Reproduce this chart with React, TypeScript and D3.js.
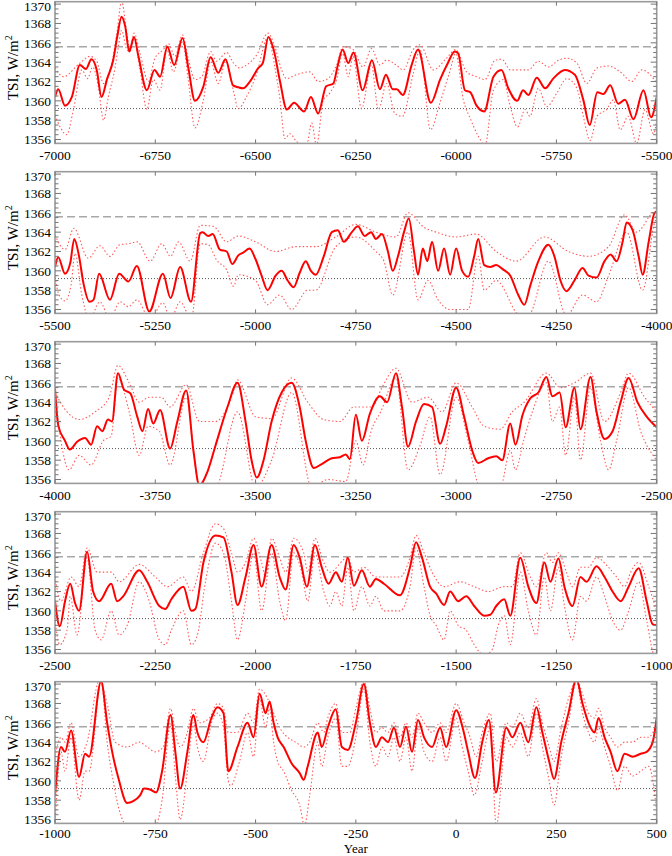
import React from "react";
import * as d3 from "d3";

type Pt = [number, number];

// TSI reconstruction, five 1500-year panels. [year, W/m^2]
const panelStarts = [-7000, -5500, -4000, -2500, -1000];
const yearStep = 250;
const tsiMajor = [1356, 1358, 1360, 1362, 1364, 1366, 1368, 1370];
const refHigh = 1365.6;
const refLow = 1359.2;

const p1Main: Pt[] = [[-7000,1360.4],[-6992,1361.2],[-6975,1359.5],[-6958,1360.4],[-6938,1363.7],[-6923,1363.3],[-6909,1364.3],[-6896,1363.2],[-6884,1360.4],[-6870,1362.3],[-6855,1364.2],[-6845,1366.6],[-6834,1368.7],[-6825,1367.7],[-6815,1365.1],[-6803,1366.6],[-6792,1364.6],[-6771,1361.1],[-6752,1363.2],[-6738,1362.5],[-6720,1365.6],[-6703,1363.7],[-6682,1366.5],[-6668,1363.5],[-6651,1360.0],[-6630,1361.5],[-6612,1364.5],[-6593,1362.9],[-6575,1364.3],[-6556,1361.6],[-6543,1361.4],[-6531,1361.3],[-6514,1362.0],[-6493,1363.4],[-6482,1363.9],[-6468,1366.6],[-6455,1365.3],[-6439,1362.0],[-6422,1359.1],[-6404,1359.8],[-6379,1358.9],[-6362,1360.4],[-6344,1358.7],[-6324,1361.5],[-6306,1361.8],[-6296,1363.5],[-6283,1365.3],[-6269,1363.9],[-6256,1365.0],[-6233,1361.1],[-6210,1364.2],[-6190,1361.2],[-6175,1362.7],[-6158,1361.2],[-6148,1361.2],[-6133,1360.6],[-6111,1363.7],[-6095,1365.3],[-6063,1359.8],[-6040,1362.2],[-6023,1363.7],[-6003,1365.1],[-5995,1364.9],[-5978,1361.1],[-5965,1360.9],[-5949,1359.5],[-5930,1358.9],[-5907,1362.5],[-5887,1363.2],[-5870,1361.3],[-5848,1360.0],[-5833,1361.1],[-5820,1360.6],[-5799,1362.4],[-5778,1361.3],[-5758,1362.3],[-5729,1363.2],[-5704,1362.7],[-5683,1360.1],[-5667,1357.5],[-5648,1360.9],[-5633,1360.7],[-5616,1361.6],[-5596,1359.7],[-5579,1360.1],[-5558,1358.1],[-5533,1361.1],[-5514,1358.3],[-5500,1360.4]];
const p1Upper: Pt[] = [[-7000,1363.4],[-6979,1362.5],[-6938,1363.9],[-6913,1364.6],[-6896,1364.1],[-6879,1361.8],[-6859,1363.7],[-6845,1367.2],[-6834,1370.3],[-6821,1367.0],[-6813,1365.3],[-6803,1367.0],[-6788,1364.9],[-6767,1362.0],[-6751,1364.4],[-6730,1365.3],[-6717,1365.9],[-6701,1364.6],[-6682,1366.8],[-6668,1364.4],[-6651,1362.2],[-6634,1362.5],[-6612,1365.1],[-6597,1364.1],[-6572,1365.0],[-6555,1363.9],[-6539,1363.4],[-6523,1363.7],[-6498,1364.7],[-6469,1367.0],[-6452,1365.6],[-6435,1363.2],[-6423,1362.3],[-6398,1362.7],[-6365,1363.0],[-6344,1362.0],[-6323,1362.2],[-6298,1363.7],[-6282,1365.6],[-6257,1365.3],[-6232,1363.5],[-6211,1365.4],[-6190,1363.7],[-6173,1364.2],[-6149,1363.7],[-6132,1363.2],[-6107,1365.3],[-6090,1365.8],[-6057,1363.2],[-6024,1364.4],[-6001,1365.3],[-5974,1363.0],[-5949,1362.5],[-5928,1362.2],[-5903,1364.2],[-5886,1364.3],[-5865,1363.2],[-5845,1363.2],[-5820,1363.2],[-5795,1364.1],[-5770,1363.5],[-5745,1364.2],[-5724,1364.4],[-5699,1363.9],[-5674,1361.8],[-5649,1363.4],[-5620,1363.6],[-5591,1363.0],[-5562,1362.0],[-5537,1363.2],[-5516,1362.7],[-5500,1361.8]];
const p1Lower: Pt[] = [[-7000,1358.5],[-6987,1357.3],[-6971,1356.5],[-6954,1359.1],[-6933,1363.2],[-6919,1362.3],[-6906,1363.5],[-6892,1361.5],[-6879,1358.0],[-6867,1360.4],[-6850,1363.5],[-6842,1365.6],[-6834,1367.3],[-6821,1365.3],[-6813,1365.1],[-6803,1366.3],[-6788,1363.2],[-6771,1359.1],[-6755,1362.2],[-6738,1361.1],[-6721,1365.3],[-6705,1363.0],[-6682,1366.1],[-6668,1362.2],[-6651,1357.2],[-6630,1360.1],[-6612,1364.1],[-6593,1361.8],[-6574,1364.1],[-6555,1361.0],[-6543,1359.2],[-6523,1360.4],[-6498,1362.7],[-6469,1366.6],[-6452,1363.5],[-6439,1360.1],[-6427,1356.1],[-6414,1356.6],[-6398,1355.8],[-6373,1355.4],[-6360,1357.7],[-6348,1355.4],[-6331,1360.1],[-6315,1360.8],[-6298,1362.2],[-6283,1364.9],[-6269,1362.5],[-6257,1364.6],[-6236,1359.2],[-6211,1363.7],[-6194,1359.1],[-6173,1361.8],[-6153,1358.7],[-6134,1358.4],[-6107,1362.8],[-6090,1365.3],[-6064,1357.0],[-6041,1359.7],[-6016,1363.0],[-6001,1364.9],[-5982,1360.1],[-5965,1358.2],[-5944,1356.3],[-5928,1355.4],[-5907,1361.1],[-5882,1362.2],[-5865,1359.4],[-5847,1357.3],[-5828,1359.1],[-5816,1358.4],[-5795,1361.3],[-5774,1359.4],[-5749,1360.8],[-5724,1362.3],[-5699,1361.3],[-5683,1358.4],[-5666,1355.9],[-5649,1358.4],[-5625,1359.1],[-5608,1360.1],[-5591,1357.0],[-5571,1358.4],[-5550,1355.6],[-5529,1359.1],[-5508,1356.6],[-5500,1358.0]];

const p2Main: Pt[] = [[-5500,1360.4],[-5492,1361.4],[-5475,1359.7],[-5462,1360.8],[-5452,1363.3],[-5440,1361.5],[-5429,1358.7],[-5414,1356.8],[-5404,1357.0],[-5390,1359.7],[-5363,1357.0],[-5340,1359.7],[-5317,1358.9],[-5296,1360.5],[-5265,1355.8],[-5231,1359.7],[-5212,1357.2],[-5188,1360.4],[-5161,1356.8],[-5138,1363.9],[-5132,1364.0],[-5118,1363.6],[-5107,1363.8],[-5089,1362.2],[-5072,1362.0],[-5058,1360.7],[-5043,1361.6],[-5030,1361.9],[-5015,1362.3],[-5000,1361.2],[-4985,1359.5],[-4970,1358.0],[-4950,1359.5],[-4935,1360.0],[-4920,1359.0],[-4905,1358.3],[-4890,1359.8],[-4875,1361.0],[-4862,1360.0],[-4850,1359.6],[-4830,1361.5],[-4810,1364.0],[-4795,1364.2],[-4780,1363.0],[-4760,1364.0],[-4745,1364.6],[-4728,1363.6],[-4712,1364.0],[-4700,1363.3],[-4685,1363.8],[-4670,1362.0],[-4658,1360.0],[-4645,1361.5],[-4630,1364.0],[-4618,1365.4],[-4605,1362.0],[-4595,1359.6],[-4583,1362.3],[-4572,1361.0],[-4560,1363.0],[-4545,1360.0],[-4530,1362.3],[-4515,1359.6],[-4500,1362.3],[-4485,1360.0],[-4470,1359.4],[-4455,1361.5],[-4445,1363.3],[-4430,1360.6],[-4415,1360.4],[-4400,1360.6],[-4385,1360.2],[-4365,1359.5],[-4345,1357.5],[-4330,1356.5],[-4315,1358.5],[-4295,1361.0],[-4270,1362.7],[-4255,1361.5],[-4240,1359.0],[-4225,1357.9],[-4205,1359.0],[-4185,1360.3],[-4170,1359.5],[-4150,1359.3],[-4130,1361.0],[-4115,1361.7],[-4100,1361.0],[-4085,1363.0],[-4075,1365.0],[-4060,1364.2],[-4045,1361.5],[-4035,1359.6],[-4020,1363.0],[-4005,1366.0],[-4000,1366.1]];
const p2Upper: Pt[] = [[-5500,1363.7],[-5475,1362.2],[-5453,1364.4],[-5417,1361.3],[-5388,1362.6],[-5363,1361.5],[-5338,1362.7],[-5317,1362.8],[-5295,1363.0],[-5263,1361.0],[-5234,1362.8],[-5212,1361.5],[-5192,1363.0],[-5163,1361.0],[-5138,1364.7],[-5105,1364.6],[-5072,1363.0],[-5043,1363.6],[-5000,1363.0],[-4950,1362.0],[-4900,1362.5],[-4850,1362.5],[-4800,1363.5],[-4750,1364.8],[-4700,1364.0],[-4650,1363.5],[-4620,1366.0],[-4580,1364.5],[-4550,1364.0],[-4500,1363.5],[-4450,1363.8],[-4400,1362.0],[-4350,1361.0],[-4280,1363.5],[-4220,1362.0],[-4170,1361.5],[-4120,1362.5],[-4080,1365.8],[-4050,1364.0],[-4010,1366.0],[-4000,1366.2]];
const p2Lower: Pt[] = [[-5500,1359.4],[-5490,1357.5],[-5475,1356.9],[-5460,1358.5],[-5450,1361.8],[-5434,1357.7],[-5414,1355.0],[-5388,1356.8],[-5363,1355.0],[-5338,1356.8],[-5317,1356.3],[-5296,1357.0],[-5263,1355.0],[-5231,1356.7],[-5212,1355.0],[-5188,1356.8],[-5160,1355.0],[-5138,1362.8],[-5118,1362.7],[-5097,1361.1],[-5072,1360.1],[-5055,1358.4],[-5043,1359.6],[-5000,1359.0],[-4970,1356.5],[-4940,1357.5],[-4910,1356.0],[-4870,1358.0],[-4850,1358.0],[-4800,1362.5],[-4750,1363.5],[-4700,1362.0],[-4680,1361.0],[-4658,1357.5],[-4620,1364.0],[-4595,1357.0],[-4570,1359.0],[-4545,1357.0],[-4515,1356.0],[-4470,1356.0],[-4445,1361.5],[-4430,1358.0],[-4400,1359.0],[-4340,1355.4],[-4320,1355.4],[-4270,1361.0],[-4225,1355.4],[-4185,1357.5],[-4150,1356.8],[-4120,1359.5],[-4075,1364.0],[-4035,1358.0],[-4005,1365.0],[-4000,1365.5]];

const p3Main: Pt[] = [[-4000,1365.4],[-3992,1361.6],[-3975,1360.0],[-3963,1359.1],[-3945,1359.9],[-3925,1360.3],[-3910,1359.6],[-3895,1361.5],[-3882,1361.0],[-3868,1362.2],[-3858,1362.0],[-3843,1367.0],[-3828,1365.3],[-3812,1364.9],[-3795,1362.5],[-3782,1361.0],[-3768,1363.3],[-3755,1361.8],[-3738,1363.2],[-3713,1359.2],[-3695,1362.0],[-3673,1365.2],[-3655,1359.0],[-3640,1355.4],[-3620,1356.8],[-3600,1359.5],[-3570,1363.5],[-3545,1366.0],[-3525,1362.0],[-3510,1358.0],[-3497,1356.2],[-3480,1358.0],[-3460,1362.0],[-3435,1365.0],[-3410,1366.0],[-3390,1363.5],[-3375,1360.0],[-3355,1357.2],[-3335,1357.6],[-3310,1358.2],[-3290,1358.3],[-3275,1358.6],[-3265,1358.1],[-3250,1362.7],[-3235,1360.0],[-3215,1362.8],[-3190,1364.6],[-3172,1364.0],[-3150,1367.0],[-3135,1363.5],[-3120,1359.4],[-3100,1362.0],[-3080,1363.8],[-3060,1363.5],[-3040,1359.7],[-3025,1361.5],[-3000,1365.5],[-2980,1362.5],[-2960,1359.0],[-2945,1357.7],[-2920,1358.2],[-2900,1358.4],[-2885,1358.0],[-2865,1361.8],[-2852,1359.6],[-2835,1362.6],[-2815,1364.4],[-2795,1365.0],[-2775,1366.6],[-2760,1364.6],[-2742,1365.0],[-2727,1361.4],[-2705,1365.5],[-2690,1361.2],[-2665,1366.6],[-2650,1363.0],[-2630,1360.2],[-2610,1361.0],[-2590,1364.0],[-2570,1366.5],[-2548,1364.0],[-2525,1362.5],[-2500,1361.4]];
const p3Upper: Pt[] = [[-4000,1365.0],[-3970,1363.0],[-3940,1362.2],[-3900,1363.0],[-3865,1364.5],[-3843,1367.8],[-3815,1366.0],[-3790,1364.0],[-3765,1364.5],[-3735,1364.5],[-3713,1363.5],[-3673,1365.8],[-3640,1362.0],[-3600,1362.0],[-3560,1364.5],[-3545,1366.3],[-3500,1362.5],[-3460,1362.3],[-3410,1366.5],[-3370,1364.0],[-3330,1362.2],[-3290,1362.0],[-3255,1363.5],[-3210,1363.5],[-3185,1365.5],[-3150,1367.5],[-3110,1364.0],[-3070,1364.5],[-3035,1363.0],[-3000,1366.0],[-2960,1363.5],[-2930,1361.5],[-2890,1361.2],[-2860,1363.0],[-2830,1364.0],[-2775,1367.0],[-2740,1365.5],[-2705,1366.0],[-2665,1367.0],[-2630,1362.0],[-2590,1365.0],[-2570,1367.0],[-2530,1364.5],[-2500,1363.0]];
const p3Lower: Pt[] = [[-4000,1365.0],[-3985,1360.0],[-3965,1357.0],[-3940,1358.5],[-3910,1357.5],[-3880,1360.0],[-3860,1360.5],[-3843,1366.5],[-3815,1363.0],[-3790,1358.5],[-3768,1361.5],[-3740,1361.0],[-3713,1357.5],[-3673,1364.5],[-3640,1355.2],[-3600,1355.2],[-3545,1363.0],[-3500,1355.2],[-3460,1358.0],[-3410,1365.0],[-3360,1355.2],[-3320,1356.0],[-3275,1355.8],[-3250,1360.0],[-3232,1357.5],[-3212,1361.0],[-3188,1363.0],[-3150,1366.5],[-3120,1357.0],[-3090,1359.5],[-3065,1362.5],[-3040,1356.5],[-3000,1364.5],[-2970,1360.0],[-2940,1355.2],[-2890,1355.2],[-2865,1359.0],[-2852,1357.0],[-2832,1360.0],[-2810,1363.0],[-2775,1366.0],[-2760,1362.0],[-2742,1363.5],[-2727,1358.5],[-2705,1364.5],[-2690,1358.0],[-2665,1365.5],[-2640,1360.0],[-2620,1357.0],[-2600,1360.0],[-2570,1365.5],[-2540,1361.0],[-2500,1358.0]];

const p4Main: Pt[] = [[-2500,1361.0],[-2488,1358.4],[-2475,1361.0],[-2462,1362.8],[-2450,1360.8],[-2440,1360.0],[-2420,1366.1],[-2405,1362.0],[-2390,1361.0],[-2360,1362.8],[-2345,1361.0],[-2330,1361.5],[-2290,1364.2],[-2270,1363.0],[-2240,1360.5],[-2225,1360.2],[-2210,1361.2],[-2180,1362.5],[-2160,1360.0],[-2150,1360.2],[-2130,1365.0],[-2100,1367.8],[-2080,1367.6],[-2060,1364.0],[-2045,1360.6],[-2025,1363.5],[-2005,1366.8],[-1985,1362.5],[-1960,1366.8],[-1940,1363.5],[-1925,1362.2],[-1905,1366.8],[-1890,1365.5],[-1872,1362.5],[-1852,1366.8],[-1835,1364.5],[-1818,1362.8],[-1800,1364.0],[-1785,1363.0],[-1770,1365.5],[-1755,1362.6],[-1735,1364.2],[-1715,1362.5],[-1700,1363.3],[-1680,1362.8],[-1640,1361.6],[-1615,1364.5],[-1600,1367.1],[-1585,1365.5],[-1565,1362.5],[-1550,1361.8],[-1530,1360.6],[-1515,1362.0],[-1495,1361.0],[-1475,1361.5],[-1455,1360.5],[-1430,1359.5],[-1415,1359.6],[-1400,1360.5],[-1380,1361.2],[-1365,1359.5],[-1340,1365.5],[-1320,1362.5],[-1300,1360.8],[-1280,1365.0],[-1265,1363.0],[-1245,1365.4],[-1230,1362.5],[-1210,1360.5],[-1190,1363.5],[-1175,1363.0],[-1150,1364.6],[-1130,1363.5],[-1110,1362.0],[-1090,1361.0],[-1070,1362.5],[-1045,1364.4],[-1025,1361.0],[-1010,1358.6],[-1000,1358.5]];
const p4Upper: Pt[] = [[-2500,1363.5],[-2485,1361.0],[-2460,1363.5],[-2440,1362.5],[-2420,1366.5],[-2395,1364.0],[-2360,1364.0],[-2340,1363.0],[-2290,1364.8],[-2250,1363.5],[-2220,1362.5],[-2180,1363.5],[-2160,1362.0],[-2130,1366.0],[-2100,1369.0],[-2080,1368.5],[-2060,1366.0],[-2045,1364.0],[-2025,1365.0],[-2005,1367.5],[-1985,1365.0],[-1975,1363.5],[-1960,1367.5],[-1940,1365.5],[-1925,1364.0],[-1905,1367.5],[-1880,1366.0],[-1870,1364.0],[-1852,1367.5],[-1830,1365.0],[-1815,1364.0],[-1770,1365.5],[-1755,1364.0],[-1730,1364.5],[-1700,1363.5],[-1660,1363.5],[-1640,1363.5],[-1615,1365.5],[-1600,1367.8],[-1580,1366.0],[-1560,1364.0],[-1530,1362.5],[-1490,1363.0],[-1455,1362.5],[-1420,1362.0],[-1380,1362.5],[-1360,1362.5],[-1340,1366.0],[-1315,1363.5],[-1300,1362.5],[-1275,1366.0],[-1260,1365.0],[-1245,1366.0],[-1225,1364.0],[-1210,1362.5],[-1190,1364.5],[-1170,1364.5],[-1150,1365.5],[-1120,1364.5],[-1100,1363.5],[-1080,1362.5],[-1065,1364.0],[-1045,1365.0],[-1020,1362.5],[-1000,1360.0]];
const p4Lower: Pt[] = [[-2500,1359.0],[-2488,1356.5],[-2470,1358.0],[-2462,1361.5],[-2445,1357.5],[-2420,1365.5],[-2400,1358.0],[-2385,1357.0],[-2360,1360.0],[-2340,1357.5],[-2320,1358.5],[-2290,1363.0],[-2265,1361.0],[-2240,1357.0],[-2225,1356.5],[-2210,1358.0],[-2180,1360.0],[-2160,1356.5],[-2145,1357.5],[-2125,1363.0],[-2100,1367.0],[-2080,1366.0],[-2060,1361.0],[-2045,1357.0],[-2025,1361.0],[-2005,1366.0],[-1985,1360.0],[-1960,1366.0],[-1940,1361.0],[-1925,1359.0],[-1905,1366.0],[-1885,1364.0],[-1870,1361.0],[-1852,1366.0],[-1830,1362.0],[-1815,1360.5],[-1800,1362.0],[-1785,1360.5],[-1770,1364.5],[-1755,1360.0],[-1735,1362.5],[-1715,1360.5],[-1700,1361.5],[-1680,1360.0],[-1640,1360.0],[-1615,1362.5],[-1600,1366.5],[-1580,1362.5],[-1565,1359.5],[-1550,1358.5],[-1530,1357.0],[-1515,1360.0],[-1495,1358.5],[-1475,1358.0],[-1455,1356.5],[-1430,1355.4],[-1410,1356.0],[-1395,1358.5],[-1380,1359.5],[-1365,1356.5],[-1340,1364.0],[-1320,1360.0],[-1300,1357.5],[-1280,1363.5],[-1265,1360.0],[-1245,1364.5],[-1230,1360.5],[-1210,1357.0],[-1190,1361.5],[-1175,1361.0],[-1150,1363.5],[-1130,1361.5],[-1110,1359.0],[-1090,1358.0],[-1070,1360.0],[-1045,1363.0],[-1025,1359.0],[-1005,1355.4],[-1000,1355.4]];

const p5Main: Pt[] = [[-1000,1358.5],[-985,1363.5],[-975,1363.0],[-960,1365.2],[-940,1360.4],[-925,1362.8],[-915,1362.5],[-885,1370.3],[-870,1366.0],[-855,1362.5],[-842,1360.3],[-820,1357.7],[-805,1357.9],[-788,1358.5],[-778,1359.2],[-763,1359.1],[-748,1358.8],[-733,1361.0],[-712,1366.8],[-700,1363.0],[-688,1359.2],[-670,1363.0],[-655,1366.8],[-645,1365.0],[-630,1364.0],[-610,1366.5],[-595,1367.6],[-580,1367.0],[-568,1361.0],[-545,1363.5],[-520,1366.0],[-505,1364.5],[-490,1369.0],[-475,1367.0],[-465,1368.2],[-455,1366.0],[-445,1364.5],[-430,1363.5],[-410,1361.8],[-390,1360.8],[-380,1360.1],[-370,1361.5],[-345,1365.0],[-335,1363.5],[-320,1365.5],[-300,1367.4],[-285,1363.5],[-270,1363.2],[-250,1366.0],[-230,1370.0],[-215,1366.0],[-200,1363.5],[-185,1364.5],[-170,1364.0],[-155,1365.5],[-140,1363.5],[-125,1365.6],[-110,1363.0],[-95,1366.3],[-80,1364.5],[-60,1363.5],[-40,1365.5],[-25,1363.5],[0,1367.3],[18,1365.2],[30,1363.0],[47,1360.3],[65,1364.0],[82,1366.3],[99,1358.8],[125,1365.5],[140,1364.5],[160,1366.0],[180,1364.0],[200,1367.6],[215,1365.0],[232,1362.0],[244,1360.2],[262,1364.0],[280,1367.0],[300,1370.5],[315,1368.0],[330,1366.0],[345,1365.0],[355,1366.5],[370,1364.5],[385,1363.0],[402,1361.0],[420,1362.8],[440,1362.5],[460,1362.8],[475,1363.0],[490,1364.0],[500,1366.5]];
const p5Upper: Pt[] = [[-1000,1362.5],[-985,1364.5],[-975,1364.0],[-960,1366.0],[-940,1362.5],[-920,1364.0],[-890,1370.3],[-870,1368.0],[-850,1364.0],[-820,1363.5],[-790,1364.0],[-770,1363.5],[-750,1363.0],[-730,1363.5],[-712,1367.5],[-700,1365.0],[-688,1363.5],[-670,1365.0],[-655,1367.5],[-640,1366.0],[-615,1366.5],[-595,1368.0],[-580,1367.5],[-568,1365.0],[-545,1365.0],[-520,1367.0],[-505,1366.0],[-490,1369.5],[-470,1368.5],[-455,1367.0],[-440,1365.5],[-420,1364.5],[-400,1364.0],[-380,1363.5],[-365,1364.0],[-345,1366.0],[-330,1365.0],[-320,1366.5],[-300,1368.0],[-285,1365.0],[-265,1365.0],[-250,1367.5],[-230,1370.3],[-215,1367.5],[-200,1365.0],[-185,1365.5],[-170,1365.0],[-155,1366.0],[-140,1364.5],[-125,1366.0],[-110,1364.5],[-95,1367.0],[-80,1366.0],[-60,1365.0],[-40,1366.0],[-25,1365.0],[0,1368.0],[20,1366.0],[35,1364.5],[50,1362.5],[65,1365.0],[85,1367.0],[100,1362.0],[125,1366.0],[140,1365.5],[160,1367.0],[180,1365.5],[200,1368.5],[215,1366.0],[232,1363.5],[244,1362.0],[262,1365.5],[280,1368.5],[300,1370.3],[315,1369.0],[330,1367.0],[345,1366.5],[355,1367.5],[370,1365.5],[385,1364.5],[402,1363.5],[420,1364.0],[440,1364.0],[460,1364.5],[480,1364.5],[500,1366.0]];
const p5Lower: Pt[] = [[-1000,1355.4],[-985,1363.0],[-975,1361.0],[-960,1364.5],[-940,1358.0],[-925,1361.0],[-915,1361.0],[-885,1370.3],[-870,1364.0],[-855,1360.0],[-840,1357.0],[-820,1355.4],[-780,1355.4],[-750,1355.4],[-733,1358.0],[-712,1366.0],[-700,1360.5],[-688,1356.0],[-670,1361.0],[-655,1366.0],[-645,1363.5],[-630,1362.0],[-610,1366.0],[-595,1367.0],[-580,1365.5],[-568,1360.0],[-562,1359.5],[-540,1362.0],[-520,1365.0],[-505,1362.5],[-490,1368.5],[-475,1365.5],[-465,1367.5],[-455,1364.0],[-445,1362.0],[-430,1361.0],[-410,1359.0],[-390,1357.5],[-378,1355.4],[-365,1358.5],[-345,1364.0],[-335,1361.5],[-320,1364.5],[-300,1366.5],[-285,1361.5],[-270,1361.5],[-250,1364.5],[-230,1369.5],[-215,1364.0],[-200,1361.5],[-185,1363.5],[-170,1362.5],[-155,1364.5],[-140,1362.0],[-125,1364.5],[-110,1361.0],[-95,1365.5],[-80,1363.0],[-60,1362.0],[-40,1364.5],[-25,1362.0],[0,1366.5],[15,1363.5],[30,1361.0],[45,1358.5],[65,1362.0],[85,1365.5],[100,1355.4],[125,1364.5],[140,1363.5],[160,1365.0],[180,1362.5],[200,1367.0],[215,1363.5],[232,1360.0],[244,1357.5],[262,1362.5],[280,1366.0],[300,1370.3],[315,1367.0],[330,1365.0],[345,1364.0],[355,1365.5],[370,1363.5],[385,1361.5],[402,1359.0],[420,1361.5],[440,1360.5],[460,1361.0],[480,1361.5],[500,1357.0]];

const panels = [
  { main: p1Main, upper: p1Upper, lower: p1Lower },
  { main: p2Main, upper: p2Upper, lower: p2Lower },
  { main: p3Main, upper: p3Upper, lower: p3Lower },
  { main: p4Main, upper: p4Upper, lower: p4Lower },
  { main: p5Main, upper: p5Upper, lower: p5Lower },
];

const WIDTH = 672;
const HEIGHT = 856;
const PLOT_LEFT = 55;
const PLOT_RIGHT = 656.7;
const FIRST_TOP = 1.7;
const PANEL_STEP = 170;
const PANEL_H = 141.7;
const FONT = "'Liberation Serif', 'Times New Roman', serif";

function Panel({ index, main, upper, lower }: { index: number; main: Pt[]; upper: Pt[]; lower: Pt[] }) {
  const start = panelStarts[index];
  const top = FIRST_TOP + index * PANEL_STEP;
  const bottom = top + PANEL_H;
  const isLast = index === panelStarts.length - 1;

  const x = d3.scaleLinear().domain([start, start + 1500]).range([PLOT_LEFT, PLOT_RIGHT]);
  const y = d3.scaleLinear().domain([1355.6, 1370.25]).range([bottom, top]);

  const line = d3
    .line<Pt>()
    .x(d => x(d[0]))
    .y(d => y(d[1]))
    .curve(d3.curveMonotoneX);

  const xTicks = d3.range(start, start + 1500 + 1, yearStep);
  const minorTicks = d3.range(1356, 1370.01, 0.5).filter(v => !tsiMajor.includes(v));
  const clipId = `clip-panel-${index}`;

  // end labels sit a little inside the frame, as in the original
  const labelY = (v: number) => Math.min(Math.max(y(v), top + 5), bottom - 4);

  return (
    <g>
      <defs>
        <clipPath id={clipId}>
          <rect x={PLOT_LEFT} y={top} width={PLOT_RIGHT - PLOT_LEFT} height={PANEL_H} />
        </clipPath>
      </defs>

      <g clipPath={`url(#${clipId})`}>
        {/* reference levels */}
        <line x1={PLOT_LEFT} x2={PLOT_RIGHT} y1={y(refHigh)} y2={y(refHigh)}
          stroke="#a8a8a8" strokeWidth={1.6} strokeDasharray="8,4" />
        <line x1={PLOT_LEFT} x2={PLOT_RIGHT} y1={y(refLow)} y2={y(refLow)}
          stroke="#555" strokeWidth={1} strokeDasharray="1,2" />

        <path d={line(upper) || ""} fill="none" stroke="#ff5a5a" strokeWidth={1.1} strokeDasharray="1.5,2.2" />
        <path d={line(lower) || ""} fill="none" stroke="#ff5a5a" strokeWidth={1.1} strokeDasharray="1.5,2.2" />
        <path d={line(main) || ""} fill="none" stroke="#ff0000" strokeWidth={2} />
      </g>

      {/* frame */}
      <rect x={PLOT_LEFT} y={top} width={PLOT_RIGHT - PLOT_LEFT} height={PANEL_H}
        fill="none" stroke="#9a9a9a" strokeWidth={1.6} />

      {/* y ticks, both sides, inward */}
      {tsiMajor.map(v => (
        <g key={`ym${v}`} stroke="#777" strokeWidth={1}>
          <line x1={PLOT_LEFT} x2={PLOT_LEFT + 6} y1={y(v)} y2={y(v)} />
          <line x1={PLOT_RIGHT} x2={PLOT_RIGHT - 6} y1={y(v)} y2={y(v)} />
        </g>
      ))}
      {minorTicks.map(v => (
        <g key={`yn${v}`} stroke="#777" strokeWidth={1}>
          <line x1={PLOT_LEFT} x2={PLOT_LEFT + 3.5} y1={y(v)} y2={y(v)} />
          <line x1={PLOT_RIGHT} x2={PLOT_RIGHT - 3.5} y1={y(v)} y2={y(v)} />
        </g>
      ))}
      {tsiMajor.map(v => (
        <text key={`yl${v}`} x={PLOT_LEFT - 4} y={labelY(v)} dy="0.35em" textAnchor="end"
          fontFamily={FONT} fontSize={13.5} fill="#000">{v}</text>
      ))}

      {/* x ticks, top and bottom, inward */}
      {xTicks.map(t => (
        <g key={`xt${t}`} stroke="#777" strokeWidth={1}>
          <line x1={x(t)} x2={x(t)} y1={bottom} y2={bottom - 4} />
          <line x1={x(t)} x2={x(t)} y1={top} y2={top + 4} />
        </g>
      ))}
      {xTicks.map(t => (
        <text key={`xl${t}`} x={x(t)} y={bottom + (isLast ? 15 : 17)} textAnchor="middle"
          fontFamily={FONT} fontSize={13.5} fill="#000">{t}</text>
      ))}

      <text transform={`translate(17.5, ${top + 66}) rotate(-90)`} textAnchor="middle"
        fontFamily={FONT} fontSize={15} fill="#000">
        TSI, W/m<tspan dy="-6" fontSize={10}>2</tspan>
      </text>
    </g>
  );
}

export default function App() {
  return (
    <svg width={WIDTH} height={HEIGHT} style={{ position: "absolute", left: 0, top: 0, background: "#fff" }}>
      {panels.map((p, i) => (
        <Panel key={i} index={i} main={p.main} upper={p.upper} lower={p.lower} />
      ))}
      <text x={(PLOT_LEFT + PLOT_RIGHT) / 2} y={853.2} textAnchor="middle"
        fontFamily={FONT} fontSize={13} fill="#000">Year</text>
    </svg>
  );
}
